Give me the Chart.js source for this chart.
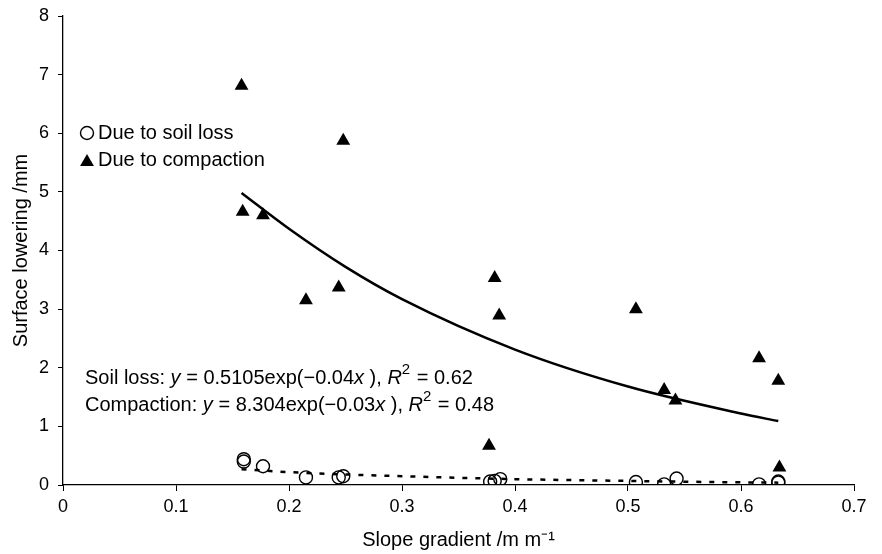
<!DOCTYPE html>
<html>
<head>
<meta charset="utf-8">
<script src="https://cdn.jsdelivr.net/npm/chart.js"></script>
<style>
  body { margin: 0; background: #fff; }
  canvas { display: block; }
</style>
</head>
<body>
<canvas id="myChart" width="882" height="554"></canvas>
<script>
// measured points
const slopeSoil = [0.160, 0.160, 0.177, 0.215, 0.244, 0.248, 0.378, 0.382, 0.387, 0.507, 0.532, 0.543, 0.616, 0.633, 0.633];
const soilLoss = [0.44, 0.40, 0.32, 0.13, 0.13, 0.15, 0.06, 0.07, 0.10, 0.05, 0.01, 0.11, 0.01, 0.06, 0.04];
const slopeComp = [0.158, 0.159, 0.177, 0.215, 0.244, 0.248, 0.377, 0.382, 0.386, 0.507, 0.532, 0.542, 0.616, 0.633, 0.634];
const compaction = [6.81, 4.66, 4.60, 3.15, 3.37, 5.87, 0.67, 3.53, 2.89, 3.00, 1.62, 1.44, 2.16, 1.78, 0.30];

// fitted curves
const fitSlope = [0.158, 0.2, 0.25, 0.3, 0.4, 0.5, 0.6, 0.633];
const soilFit = [0.27, 0.22, 0.18, 0.15, 0.10, 0.07, 0.045, 0.04];
const compFit = [4.98, 4.37, 3.72, 3.17, 2.31, 1.68, 1.22, 1.09];

const legendLabels = ['Due to soil loss', 'Due to compaction'];
const eqLines = [
  ['Soil loss: ', 'y', ' = 0.5105exp(\u22120.04', 'x', ' ), ', 'R', '2', ' = 0.62'],
  ['Compaction: ', 'y', ' = 8.304exp(\u22120.03', 'x', ' ), ', 'R', '2', ' = 0.48']
];

const FONT = '"Liberation Sans", Arial, sans-serif';

function pairs(xs, ys) {
  return xs.map((x, i) => ({ x: x, y: ys[i] }));
}

function triangle(ctx, x, y, r) {
  ctx.beginPath();
  ctx.moveTo(x, y - r);
  ctx.lineTo(x + r * 0.866, y + r * 0.5);
  ctx.lineTo(x - r * 0.866, y + r * 0.5);
  ctx.closePath();
  ctx.fill();
}

// legend + equations drawn inside the plot
const notes = {
  id: 'notes',
  afterDraw(chart) {
    const ctx = chart.ctx;
    ctx.save();
    ctx.fillStyle = '#000';
    ctx.strokeStyle = '#000';
    ctx.textBaseline = 'middle';
    ctx.font = '20px ' + FONT;

    // legend
    ctx.lineWidth = 1.4;
    ctx.beginPath();
    ctx.arc(87, 133, 6.5, 0, Math.PI * 2);
    ctx.stroke();
    ctx.fillText(legendLabels[0], 98, 133);
    triangle(ctx, 87, 162, 8);
    ctx.fillText(legendLabels[1], 98, 160);

    // equations
    const rows = [378, 405];
    eqLines.forEach((parts, r) => {
      let x = 85;
      parts.forEach((p, i) => {
        let y = rows[r];
        if (i === 1 || i === 3 || i === 5) ctx.font = 'italic 20px ' + FONT;
        else if (i === 6) { ctx.font = '15px ' + FONT; y -= 8; }
        else ctx.font = '20px ' + FONT;
        ctx.fillText(p, x, y);
        x += ctx.measureText(p).width + (i === 6 ? 1 : 0);
      });
    });
    ctx.restore();
  }
};

const ctx = document.getElementById('myChart').getContext('2d');

const myChart = new Chart(ctx, {
  type: 'scatter',
  data: {
    datasets: [
      {
        label: legendLabels[0],
        data: pairs(slopeSoil, soilLoss),
        pointStyle: 'circle',
        pointRadius: 6.5,
        backgroundColor: 'rgba(0,0,0,0)',
        borderColor: '#000',
        borderWidth: 1.4
      },
      {
        label: legendLabels[1],
        data: pairs(slopeComp, compaction),
        pointStyle: 'triangle',
        pointRadius: 8,
        backgroundColor: '#000',
        borderColor: '#000',
        borderWidth: 0
      },
      {
        label: 'Soil loss fit',
        data: pairs(fitSlope, soilFit),
        showLine: true,
        pointRadius: 0,
        borderColor: '#000',
        borderWidth: 2.5,
        borderDash: [5, 8],
        cubicInterpolationMode: 'monotone'
      },
      {
        label: 'Compaction fit',
        data: pairs(fitSlope, compFit),
        showLine: true,
        pointRadius: 0,
        borderColor: '#000',
        borderWidth: 2.5,
        cubicInterpolationMode: 'monotone'
      }
    ]
  },
  options: {
    responsive: false,
    animation: false,
    layout: { padding: { top: 16, right: 28, left: 0, bottom: 0 } },
    scales: {
      x: {
        type: 'linear',
        min: 0,
        max: 0.7,
        ticks: { stepSize: 0.1, color: '#000', padding: 5, font: { family: FONT, size: 18 } },
        grid: { drawOnChartArea: false, drawTicks: true, tickLength: 6, color: '#000' },
        border: { display: true, color: '#000', width: 1.3 },
        title: {
          display: true,
          text: 'Slope gradient /m m\u207B\u00B9',
          color: '#000',
          font: { family: FONT, size: 20 },
          padding: { top: 0, bottom: 2 }
        },
        afterFit(scale) { scale.height = 69; }
      },
      y: {
        min: 0,
        max: 8,
        ticks: { stepSize: 1, color: '#000', padding: 9, font: { family: FONT, size: 18 } },
        grid: { drawOnChartArea: false, drawTicks: true, tickLength: 5, color: '#000' },
        border: { display: true, color: '#000', width: 1.3 },
        title: {
          display: true,
          text: 'Surface lowering /mm',
          color: '#000',
          font: { family: FONT, size: 20 },
          padding: { top: 9, bottom: 0 }
        },
        afterFit(scale) {
          scale.width = 63;
          scale.paddingTop = 0;
          scale.paddingBottom = 0;
        }
      }
    },
    plugins: {
      legend: { display: false },
      tooltip: { enabled: false }
    }
  },
  plugins: [notes]
});
</script>
</body>
</html>
